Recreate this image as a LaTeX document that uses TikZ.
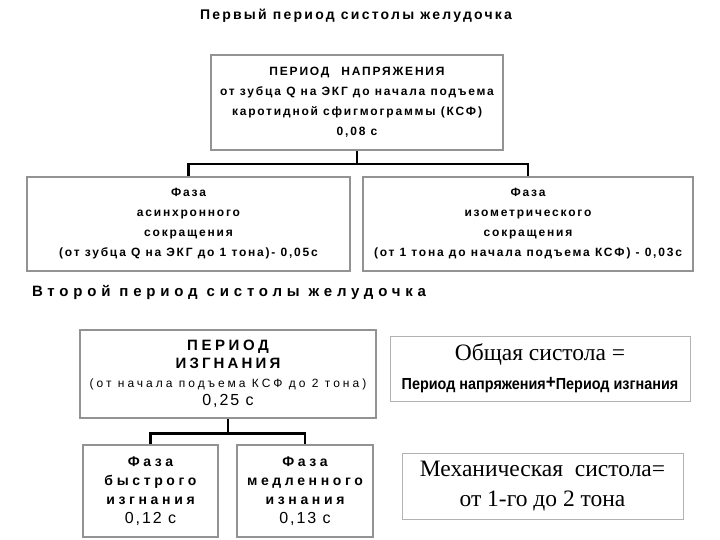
\documentclass[tikz,border=0pt]{standalone}
\usepackage{fontspec}
\setmainfont{Liberation Serif}
\newfontfamily\boxfont[LetterSpace=15]{Liberation Sans}
\newfontfamily\widefont[LetterSpace=24]{Liberation Sans}
\newfontfamily\phasefont[LetterSpace=26]{Liberation Sans}
\newfontfamily\headfont[LetterSpace=16]{Liberation Sans}
\newfontfamily\bigheadfont[LetterSpace=32]{Liberation Sans}
\usetikzlibrary{positioning}

\tikzset{
  box/.style={draw=gray!85, line width=2.5pt, fill=white, align=center, inner sep=0pt},
  note/.style={draw=gray!60, line width=1pt, fill=white, align=center, inner sep=0pt},
  conn/.style={line width=2.5pt, black},
  head/.style={inner sep=0pt, font=\headfont\bfseries\fontsize{14}{14}\selectfont},
}

\begin{document}
\begin{tikzpicture}[x=1pt, y=-1pt]
  \useasboundingbox (0,0) rectangle (720,540);

  % Headings
  \node[head] (title1) at (356,16) {Первый период систолы желудочка};
  \node[head, font=\bigheadfont\bfseries\fontsize{15}{15}\selectfont] (title2) at (229,292) {Второй период систолы желудочка};

  % First period
  \node[box, minimum width=292pt, minimum height=95pt,
        font=\boxfont\bfseries\fontsize{12}{20}\selectfont] (period1) at (357,102.5)
    {ПЕРИОД\quad НАПРЯЖЕНИЯ\\ от зубца Q на ЭКГ до начала подъема\\ каротидной сфигмограммы (КСФ)\\ 0,08 с};
  \node[box, minimum width=323pt, minimum height=94pt,
        font=\boxfont\bfseries\fontsize{12}{20}\selectfont] (phase1a) at (188.5,224)
    {Фаза\\ асинхронного\\ сокращения\\ (от зубца Q на ЭКГ до 1 тона)- 0,05с};
  \node[box, minimum width=330pt, minimum height=94pt,
        font=\boxfont\bfseries\fontsize{12}{20}\selectfont] (phase1b) at (528,224)
    {Фаза\\ изометрического\\ сокращения\\ (от 1 тона до начала подъема КСФ) - 0,03с};

  \draw[conn] (period1.south) -- ++(0,13) -| (phase1a.north);
  \draw[conn] (period1.south) -- ++(0,13) -| (phase1b.north);

  % Second period
  \node[box, minimum width=296pt, minimum height=88pt,
        font=\widefont\fontsize{15}{18.5}\selectfont] (period2) at (228,374)
    {\bfseries ПЕРИОД\\
     \bfseries\addfontfeature{LetterSpace=21}ИЗГНАНИЯ\\
     \boxfont\addfontfeature{LetterSpace=25}\fontsize{12}{18.5}\selectfont (от начала подъема КСФ до 2 тона)\\
     \addfontfeature{LetterSpace=12}\fontsize{16}{18.5}\selectfont 0,25 с};
  \node[box, minimum width=135pt, minimum height=92pt,
        font=\phasefont\bfseries\fontsize{14}{19}\selectfont] (phase2a) at (150.5,491)
    {Фаза\\ быстрого\\ изгнания\\
     \mdseries\addfontfeature{LetterSpace=12}\fontsize{16}{19}\selectfont 0,12 с};
  \node[box, minimum width=136pt, minimum height=92pt,
        font=\phasefont\bfseries\fontsize{14}{19}\selectfont] (phase2b) at (305,491)
    {Фаза\\ медленного\\ изнания\\
     \mdseries\addfontfeature{LetterSpace=12}\fontsize{16}{19}\selectfont 0,13 с};

  \draw[conn] (period2.south) -- ++(0,14) -| (phase2a.north);
  \draw[conn] (period2.south) -- ++(0,14) -| (phase2b.north);

  % Notes
  \node[note, minimum width=300pt, minimum height=65pt,
        font=\fontsize{23.5}{29}\selectfont] (total) at (540,368.5)
    {Общая систола =\\
     \scalebox{0.9}[1]{\fontspec{Liberation Sans}\bfseries\fontsize{16}{16}\selectfont Период напряжения\raisebox{1.5pt}{\fontsize{19}{19}\selectfont+}Период изгнания}};
  \node[note, minimum width=281pt, minimum height=66pt,
        font=\fontsize{23.5}{30}\selectfont] (mech) at (542.5,486)
    {Механическая\ \ систола=\\ от 1-го до 2 тона};
\end{tikzpicture}
\end{document}
